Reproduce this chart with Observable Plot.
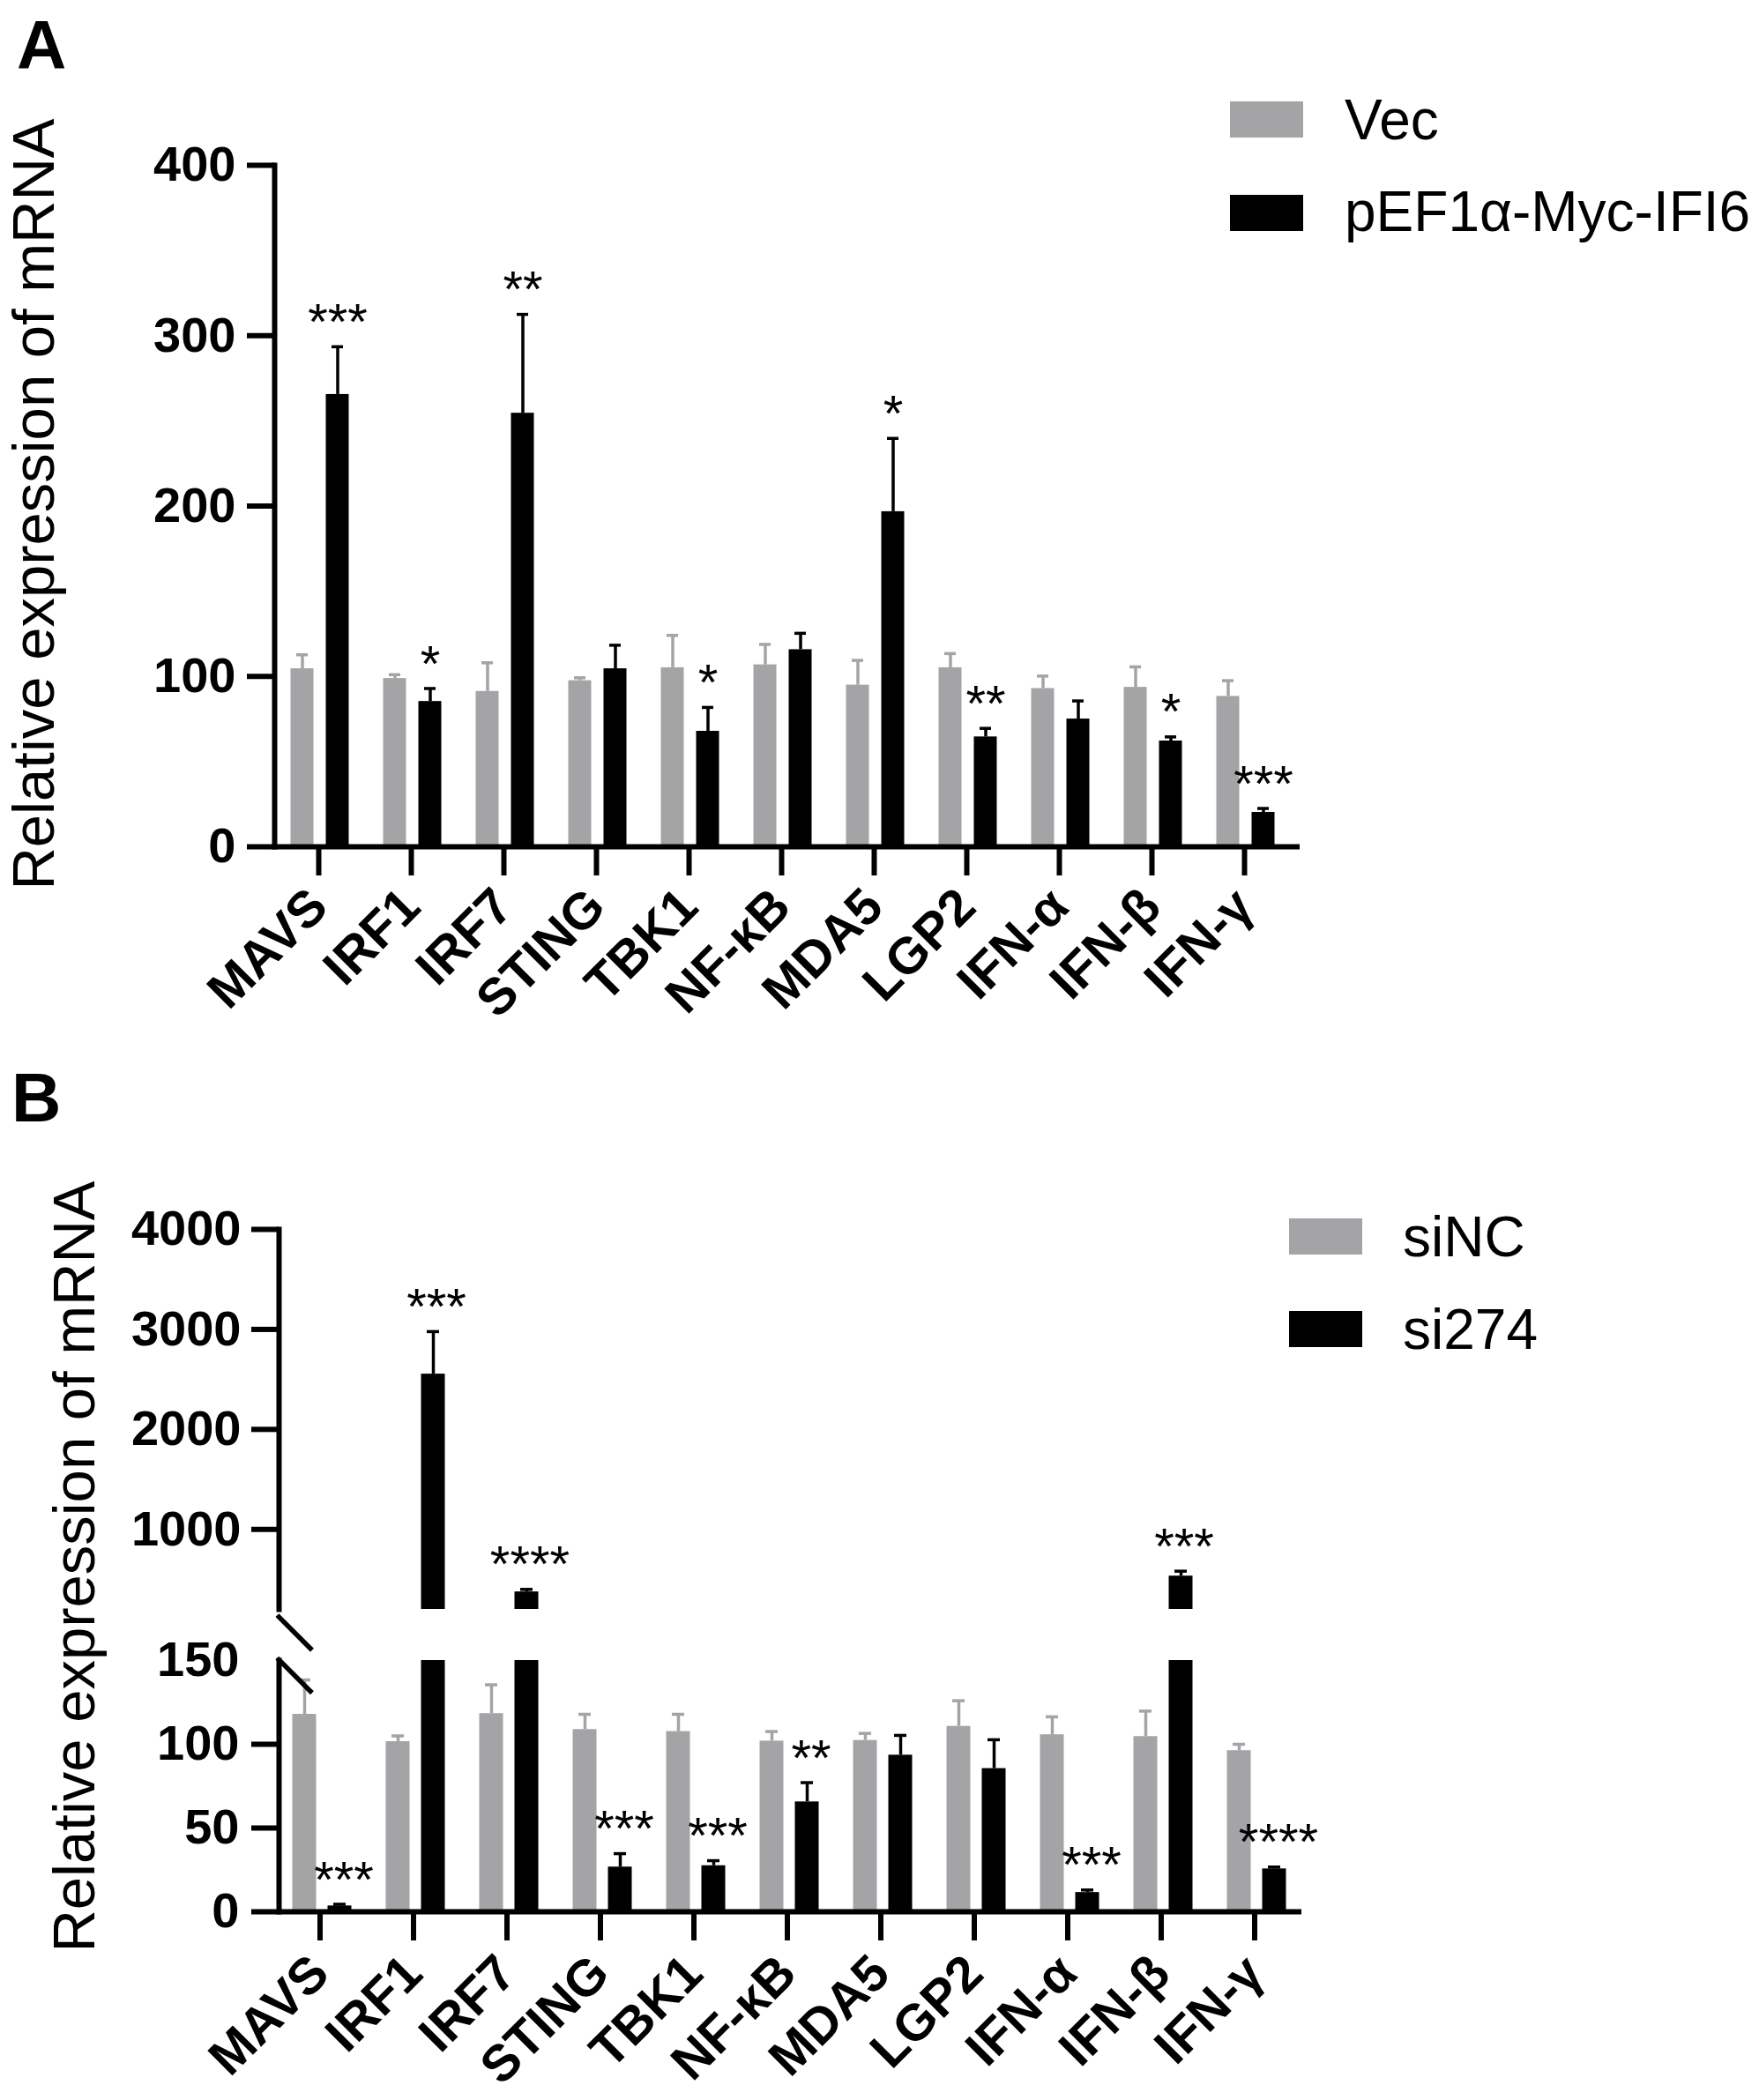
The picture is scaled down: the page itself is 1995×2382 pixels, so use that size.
<!DOCTYPE html>
<html><head><meta charset="utf-8">
<script src="https://cdn.jsdelivr.net/npm/d3@7"></script>
<script src="https://cdn.jsdelivr.net/npm/@observablehq/plot@0.6"></script>
<style>
html,body{margin:0;padding:0;background:#fff;overflow:hidden;}
#page{position:relative;width:1995px;height:2382px;font-family:"Liberation Sans",Arial,sans-serif;color:#000;}
#page > *{position:absolute;}
.letter{font-weight:bold;font-size:78px;line-height:1;}
.ytitle{font-size:67px;line-height:1;white-space:nowrap;transform:translate(-50%,-50%) rotate(-90deg);}
.leg{font-size:64px;line-height:1;white-space:nowrap;}
.sw{width:83px;height:41px;}
</style></head><body><div id="page"></div>
<script>
// ---------- data ----------
const genes = ["MAVS","IRF1","IRF7","STING","TBK1","NF-κB","MDA5","LGP2","IFN-α","IFN-β","IFN-γ"];

// Panel A
const groupsA = ["Vec","pEF1α-Myc-IFI6"];
const vecMean = [104.5, 98.8, 91.2, 97.5, 105.1, 106.8, 94.9, 105.1, 92.9, 93.6, 88.3];
const vecErr  = [8.2, 2.2, 16.8, 1.7, 19.0, 12.0, 14.5, 8.3, 7.3, 12.0, 9.2];
const pefMean = [265.5, 85.3, 254.5, 104.5, 67.8, 115.7, 196.7, 64.5, 75.0, 62.1, 20.2];
const pefErr  = [28.0, 7.6, 58.0, 13.8, 14.0, 9.6, 43.0, 5.0, 10.6, 2.4, 2.3];
const sigA    = ["***","*","**","","*","","*","**","","*","***"];
const yTicksA = [0,100,200,300,400];

// Panel B
const groupsB = ["siNC","si274"];
const siNCMean  = [117.9, 101.6, 118.3, 108.8, 107.6, 101.9, 102.3, 110.7, 105.7, 104.6, 96.2];
const siNCErr   = [20.5, 3.4, 17.2, 9.1, 10.3, 5.7, 4.2, 15.3, 10.7, 15.2, 3.8];
const si274Mean = [3.5, 2553, 375, 26.7, 27.5, 65.6, 93.5, 85.5, 11.5, 533, 25.6];
const si274Err  = [1.0, 425, 25, 8.0, 3.0, 11.5, 11.8, 17.2, 1.5, 49, 1.1];
const sigB      = ["***","***","****","***","***","**","","","***","***","****"];
const yTicksBUpper = [1000,2000,3000,4000];
const yTicksBLower = [0,50,100];
const yLabelBLowerTop = [150];

// ---------- helpers ----------
const GRAY = "#a4a4a7", BLACK = "#000";
const FONT = "'Liberation Sans', Arial, sans-serif";
function rows(means, errs, group) {
  return genes.map((g, i) => ({gene: g, group, value: means[i], top: means[i] + errs[i]}));
}
function groupMarks(data, color, dx) {
  return [
    Plot.barY(data, {x: "gene", y1: 0, y2: "value", fill: color, dx, clip: true}),
    Plot.ruleX(data, {x: "gene", y1: "value", y2: "top", stroke: color, strokeWidth: 3.5, dx, clip: true}),
    Plot.tickY(data, {x: "gene", y: "top", stroke: color, strokeWidth: 3.5, dx, insetLeft: 6.5, insetRight: 6.5, clip: true})
  ];
}
function sigMarks(data, dx) {
  return Plot.text(data, {x: "gene", y: "top", text: "sig", dx, dy: -27, fontSize: 58, lineAnchor: "middle", fill: BLACK});
}
const yAxisOpts = {tickSize: 31, tickPadding: 13, fontSize: 56, fontWeight: "bold", strokeWidth: 6, tickFormat: d => String(d), label: null};
const xAxisOpts = {tickSize: 33, tickRotate: -45, fontSize: 58, fontWeight: "bold", strokeWidth: 6, label: null};

const page = document.getElementById("page");
function place(el, left, top) { el.style.left = left + "px"; el.style.top = top + "px"; page.appendChild(el); }

// ---------- Panel A ----------
const aVec = rows(vecMean, vecErr, groupsA[0]);
const aPef = rows(pefMean, pefErr, groupsA[1]).map((d, i) => ({...d, sig: sigA[i]}));
const chartA = Plot.plot({
  width: 1995, height: 1190,
  marginLeft: 311, marginRight: 521, marginTop: 187, marginBottom: 230,
  style: {fontFamily: FONT, background: "transparent", overflow: "visible"},
  x: {domain: genes, paddingInner: 0.748, paddingOuter: 0.36, align: 0.428},
  y: {domain: [0, 400]},
  marks: [
    ...groupMarks(aVec, GRAY, -18.5),
    ...groupMarks(aPef, BLACK, 21.5),
    sigMarks(aPef.filter(d => d.sig), 21.5),
    Plot.frame({anchor: "left", strokeWidth: 6}),
    Plot.ruleY([0], {strokeWidth: 6}),
    Plot.axisY({...yAxisOpts, ticks: yTicksA}),
    Plot.axisX({...xAxisOpts, tickPadding: 25})
  ]
});
place(chartA, 0, 0);

// ---------- Panel B ----------
const bNC = rows(siNCMean, siNCErr, groupsB[0]);
const bSi = rows(si274Mean, si274Err, groupsB[1]).map((d, i) => ({...d, sig: sigB[i]}));
const xB = {domain: genes, paddingInner: 0.748, paddingOuter: 0.3456, align: 0.4454};

const chartBUpper = Plot.plot({
  width: 1995, height: 655,
  marginLeft: 316, marginRight: 519, marginTop: 194, marginBottom: 30,
  style: {fontFamily: FONT, background: "transparent", overflow: "visible"},
  x: {...xB, axis: null},
  y: {domain: [200, 4000]},
  marks: [
    ...groupMarks(bNC, GRAY, -17.5),
    ...groupMarks(bSi, BLACK, 22.5),
    sigMarks(bSi.filter(d => d.sig && d.top > 150), 26),
    Plot.frame({anchor: "left", strokeWidth: 6}),
    Plot.axisY({...yAxisOpts, tickPadding: 12, ticks: yTicksBUpper}),
    Plot.text(["—"], {frameAnchor: "bottom-left", text: d => d, rotate: 45, fontSize: 56, fontWeight: "bold", dy: 4.5, lineAnchor: "middle"})
  ]
});
place(chartBUpper, 0, 1200);

const chartBLower = Plot.plot({
  width: 1995, height: 527,
  marginLeft: 316, marginRight: 519, marginTop: 28, marginBottom: 214,
  style: {fontFamily: FONT, background: "transparent", overflow: "visible"},
  x: xB,
  y: {domain: [0, 150]},
  marks: [
    ...groupMarks(bNC, GRAY, -17.5),
    ...groupMarks(bSi, BLACK, 22.5),
    sigMarks(bSi.filter(d => d.sig && d.top <= 150), 27),
    Plot.frame({anchor: "left", strokeWidth: 6}),
    Plot.ruleY([0], {strokeWidth: 6}),
    Plot.axisY({...yAxisOpts, tickPadding: 14, ticks: yTicksBLower}),
    Plot.axisY({...yAxisOpts, tickSize: 0, tickPadding: 45, ticks: yLabelBLowerTop}),
    Plot.text(["—"], {frameAnchor: "top-left", text: d => d, rotate: 45, fontSize: 56, fontWeight: "bold", dy: -5, lineAnchor: "middle"}),
    Plot.axisX({...xAxisOpts, tickPadding: 27})
  ]
});
place(chartBLower, 0, 1855);

// ---------- overlays: panel letters, axis titles, legends ----------
function div(cls, text) { const d = document.createElement("div"); d.className = cls; d.textContent = text; return d; }
place(div("letter", "A"), 19, 12);
place(div("letter", "B"), 13, 1206);
place(div("ytitle", "Relative expression of mRNA"), 37, 572);
place(div("ytitle", "Relative expression of mRNA"), 83, 1777);

function swatch(color) { const d = document.createElement("div"); d.className = "sw"; d.style.background = color; return d; }
place(swatch(GRAY), 1395, 115);
place(swatch(BLACK), 1395, 221);
place(div("leg", groupsA[0]), 1525, 104);
place(div("leg", groupsA[1]), 1525, 208);
place(swatch(GRAY), 1462, 1382);
place(swatch(BLACK), 1462, 1487);
place(div("leg", groupsB[0]), 1591, 1371);
place(div("leg", groupsB[1]), 1591, 1476);
</script></body></html>
